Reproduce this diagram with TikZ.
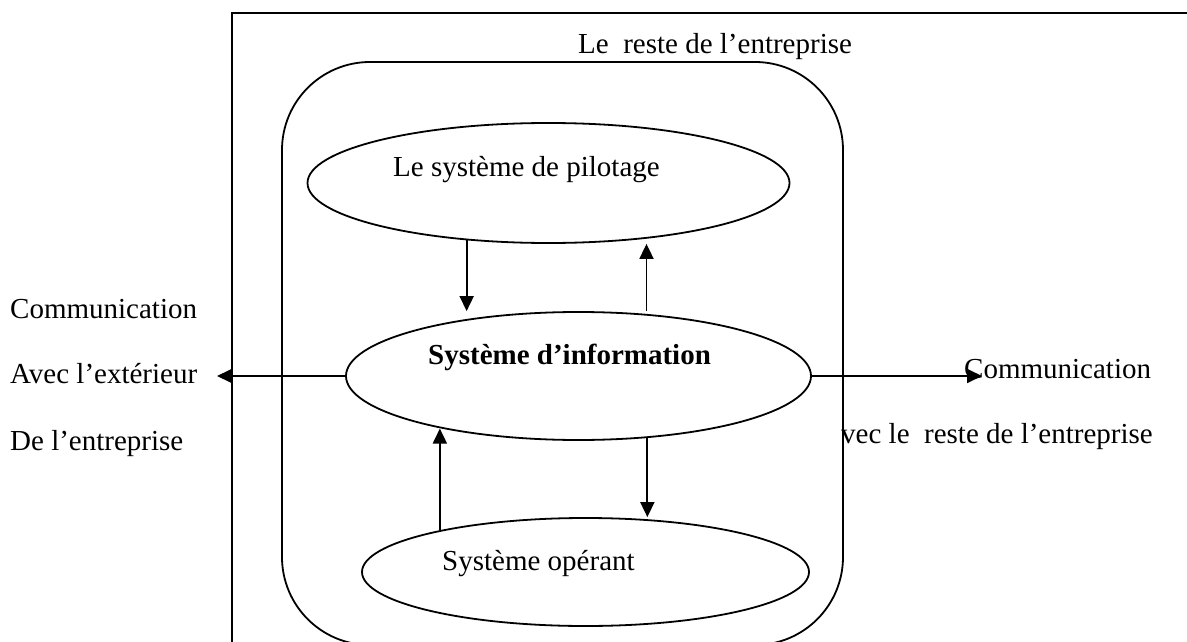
\documentclass[tikz,border=0pt]{standalone}
\usepackage{fontspec}
\setmainfont{Liberation Serif}
\usetikzlibrary{shapes.geometric,arrows.meta}
\tikzset{
  ell/.style={draw, ellipse, line width=1.8pt, inner sep=0pt},
  lbl/.style={anchor=base west, inner sep=0pt, font=\fontsize{29}{35}\selectfont},
  arr/.style={line width=1.8pt, -{Triangle[length=15pt,width=14pt]}}
}
\begin{document}
\begin{tikzpicture}[x=1pt, y=-1pt]
  \useasboundingbox (0,0) rectangle (1187,642);
  \clip (0,0) rectangle (1187,642);
  \draw[line width=2.6pt] (232,13) rectangle (1240,700);
  \node[draw, line width=1.8pt, rounded corners=88pt, minimum width=561pt,
        minimum height=583pt, inner sep=0pt] (si) at (562.5,353.5) {};
  \node[ell, minimum width=482pt, minimum height=120pt] (pil) at (548.5,183) {};
  \node[ell, minimum width=465pt, minimum height=128pt] (info) at (578.5,376) {};
  \node[ell, minimum width=447pt, minimum height=108pt] (op) at (585.5,572) {};
  \node[lbl] (reste) at (578,54) {Le\ \ reste de l’entreprise};
  \node[lbl] (pil-txt) at (393,176) {Le système de pilotage};
  \node[lbl, font=\fontsize{29}{35}\selectfont\bfseries] (info-txt) at (428,364) {Système d’information};
  \node[lbl] (op-txt) at (442,570) {Système opérant};
  \node[lbl] (com-l) at (10,318) {Communication};
  \node[lbl] (avec-l) at (10,383) {Avec l’extérieur};
  \node[lbl] (de-l) at (10,450) {De l’entreprise};
  \node[lbl] (com-r) at (964,378) {Communication};
  \node[lbl] (avec-r) at (841,443) {vec le\ \ reste de l’entreprise};
  \coordinate (out-l) at (217,376);
  \coordinate (out-r) at (982,376);
  \draw[arr] (pil.215) -- (pil.215 |- info.north);
  \draw[arr] ([xshift=68pt]info.north) -- ([xshift=68pt]info.north |- pil.south);
  \draw[arr] (op.164) -- (op.164 |- info.201);
  \draw[arr] (info.-42) -- (info.-42 |- op.north);
  \draw[arr] (info.west) -- (out-l);
  \draw[arr] (info.east) -- (out-r);
\end{tikzpicture}
\end{document}
